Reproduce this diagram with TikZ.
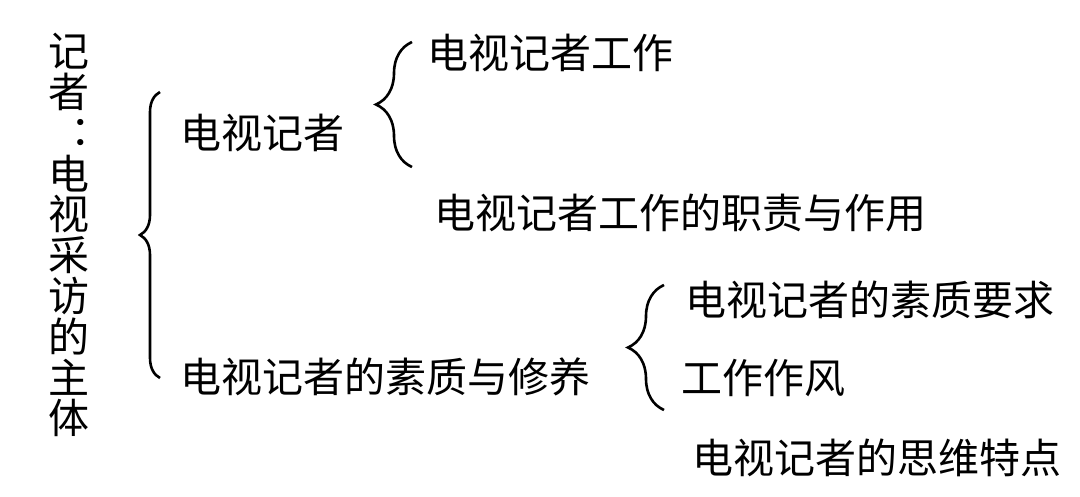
\documentclass[tikz,border=0pt]{standalone}
\usepackage{fontspec}
\newfontfamily\cjk{Noto Sans CJK SC}
\usetikzlibrary{decorations.pathreplacing}

\begin{document}
\begin{tikzpicture}[x=1pt,y=-1pt,
		txt/.style={font=\cjk\fontsize{41}{41}\selectfont,inner sep=0pt,anchor=west},
		curly/.style={decorate,decoration={brace,amplitude=#1},line width=2.6pt}]
		% Page size
		\useasboundingbox (0,0) rectangle (1080,496);
		
		% Define brace ends
		\coordinate (B1s) at (160,378);
		\coordinate (B1e) at (160,92);
		\coordinate (B2s) at (412,167);
		\coordinate (B2e) at (412,42);
		\coordinate (B3s) at (664,410);
		\coordinate (B3e) at (664,285);
		
		% Vertical title
		\foreach \ch/\dx [count=\i] in {记/0,者/0,：/22,电/0,视/0,采/0,访/0,的/0,主/0,体/0}
			\node[txt,anchor=center] (T\i) at ({69+\dx},{51+40.8*(\i-1)}) {\ch};
		
		% Label items
		\node[txt] (A) at (180,133) {电视记者};
		\node[txt] (A1) at (427,53) {电视记者工作};
		\node[txt] (A2) at (434,213) {电视记者工作的职责与作用};
		\node[txt] (B) at (180,377) {电视记者的素质与修养};
		\node[txt] (B1) at (685,300) {电视记者的素质要求};
		\node[txt] (B2) at (681,378) {工作作风};
		\node[txt] (B3) at (692,458) {电视记者的思维特点};
		
		% Draw braces
		\draw[curly=20] (B1s) -- (B1e);
		\draw[curly=36] (B2s) -- (B2e);
		\draw[curly=36] (B3s) -- (B3e);
	\end{tikzpicture}
\end{document}
